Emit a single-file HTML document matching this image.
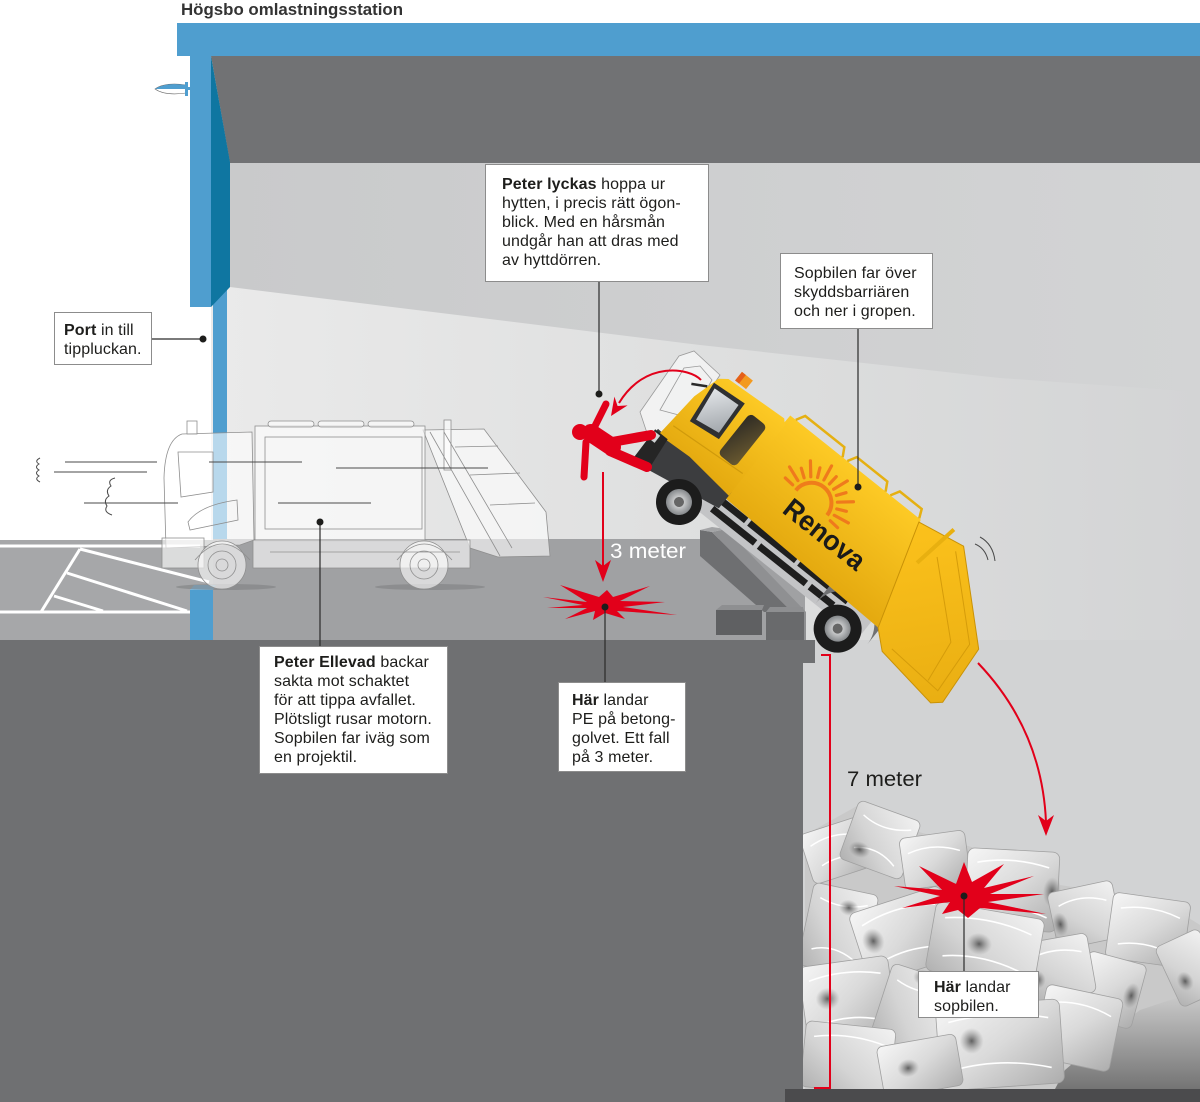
<!DOCTYPE html>
<html><head><meta charset="utf-8"><style>
html,body{margin:0;padding:0;background:#fff;}
svg{display:block;}
text{font-family:"Liberation Sans",Arial,sans-serif;}
.t{font-size:16px;fill:#1d1d1b;letter-spacing:0.1px;}
.b{font-weight:bold;}
</style></head><body>
<svg width="1200" height="1102" viewBox="0 0 1200 1102" xmlns="http://www.w3.org/2000/svg">
<defs>
 <linearGradient id="gWall" x1="0" x2="1" y1="0" y2="0"><stop offset="0" stop-color="#c9cacb"/><stop offset="1" stop-color="#d3d4d5"/></linearGradient>
 <linearGradient id="gLow" x1="0" x2="1" y1="0" y2="0"><stop offset="0" stop-color="#eaeaea"/><stop offset="0.6" stop-color="#dcdddd"/><stop offset="1" stop-color="#d3d4d5"/></linearGradient>
 <linearGradient id="gY" x1="0" y1="0" x2="0" y2="1"><stop offset="0" stop-color="#fdca25"/><stop offset="1" stop-color="#e4a90f"/></linearGradient>
 <linearGradient id="gY2" x1="0" y1="0" x2="1" y2="1"><stop offset="0" stop-color="#fcc21c"/><stop offset="1" stop-color="#e9ae12"/></linearGradient>
 <linearGradient id="gBag" x1="0" y1="0" x2="1" y2="1"><stop offset="0" stop-color="#f6f6f6"/><stop offset=".5" stop-color="#dadada"/><stop offset="1" stop-color="#adadad"/></linearGradient>
 <linearGradient id="gBag2" x1="1" y1="0" x2="0" y2="1"><stop offset="0" stop-color="#f2f2f2"/><stop offset=".6" stop-color="#d4d4d4"/><stop offset="1" stop-color="#b0b0b0"/></linearGradient>
 <radialGradient id="gPinch"><stop offset="0" stop-color="#3f3f3f" stop-opacity=".8"/><stop offset="1" stop-color="#777" stop-opacity="0"/></radialGradient>
 <linearGradient id="gPitFloor" x1="0" y1="0" x2="0" y2="1"><stop offset="0" stop-color="#cfcfcf"/><stop offset="1" stop-color="#747474"/></linearGradient>
 <radialGradient id="gHub"><stop offset="0" stop-color="#f2f2f2"/><stop offset="1" stop-color="#85888b"/></radialGradient>
 <linearGradient id="gGlass" x1="0" y1="0" x2="1" y2="1"><stop offset="0" stop-color="#e4e7ea"/><stop offset="1" stop-color="#9ea3a8"/></linearGradient>
 <linearGradient id="gDark" x1="0" y1="0" x2="1" y2="1"><stop offset="0" stop-color="#2d2a24"/><stop offset="1" stop-color="#6b5a30"/></linearGradient>
 <clipPath id="pit"><rect x="803" y="600" width="397" height="489"/></clipPath>
</defs>

<!-- background -->
<rect width="1200" height="1102" fill="#fff"/>
<rect x="226" y="160" width="974" height="930" fill="url(#gWall)"/>
<polygon points="230,287 700,345 1000,378 1200,392 1200,1090 211,1090 211,300" fill="url(#gLow)"/>
<rect x="803" y="640" width="397" height="450" fill="#d2d3d4"/>

<!-- ceiling and roof -->
<polygon points="211,56 1200,56 1200,163 230,163" fill="#717274"/>
<rect x="177" y="23" width="1023" height="33" fill="#4f9ecf"/>
<rect x="213" y="290" width="14" height="350" fill="#4f9ecf"/>
<rect x="190" y="56" width="21" height="251" fill="#4f9ecf"/>
<polygon points="211,56 230,162 230,287 211,307" fill="#0f76a1"/>

<!-- lamp -->
<path d="M155,89 Q165,82 186,85 L186,93 Q165,96 155,89 Z" fill="#fff" stroke="#666" stroke-width="0.6"/>
<path d="M155,89 Q165,82 186,85 L186,89 Z" fill="#4f9ecf"/>
<rect x="185" y="82" width="3" height="14" fill="#4f9ecf"/>
<rect x="187" y="87" width="4" height="3" fill="#4f9ecf"/>

<!-- outside floor -->
<rect x="0" y="540" width="213" height="100" fill="#a6a7a9"/>
<g stroke="#fff" stroke-width="3" fill="none">
 <path d="M0,546 L200,546"/>
 <path d="M80,549 L41,612"/>
 <path d="M80,549 L209,582"/>
 <path d="M67,573 L187,611"/>
 <path d="M54,596 L103,611"/>
 <path d="M0,612 L190,612"/>
</g>
<!-- inside floor -->
<rect x="213" y="539" width="592" height="101" fill="#a0a1a3"/>
<!-- blue block -->
<rect x="190" y="590" width="23" height="50" fill="#4f9ecf"/>
<polygon points="190,590 194,585 216,585 213,590" fill="#7dbbe3"/>

<!-- concrete -->
<polygon points="0,640 815,640 815,663 803,663 803,1089 785,1089 785,1102 0,1102" fill="#6f7072"/>
<rect x="1000" y="990" width="200" height="99" fill="url(#gPitFloor)"/>
<rect x="785" y="1089" width="415" height="13" fill="#4b4b4d"/>

<!-- barrier -->
<polygon points="700,530 712,532 792,612 764,612 700,556" fill="#6e6f71"/>
<polygon points="712,532 726,529 806,612 806,640 792,640 792,612" fill="#8f9092"/>
<polygon points="700,530 712,527 726,529 712,532" fill="#a3a4a6"/>
<polygon points="716,610 722,605 764,605 762,610" fill="#8e8f91"/>
<rect x="716" y="610" width="46" height="25" fill="#5f6062"/>
<polygon points="766,612 770,607 803,607 804,612" fill="#8e8f91"/>
<rect x="766" y="612" width="38" height="28" fill="#696a6c"/>

<!-- garbage bags -->
<g clip-path="url(#pit)">
 <path d="M805,835 L857,806 L905,828 L975,848 L1055,852 L1060,885 L1110,893 L1165,903 L1200,925 L1200,990 L1140,1010 L1100,1040 L1065,1070 L1055,1089 L805,1089 Z" fill="#c9c9c9"/>
 <g stroke="#a0a0a0" stroke-width="0.8">
 <g transform="translate(838,850) rotate(-18)"><rect x="-33" y="-26" width="66" height="52" rx="6" fill="url(#gBag)"/><path d="M-25,-12 Q0,-20 25,-8 M-20,10 Q2,4 24,14" stroke="#fff" stroke-width="1.5" fill="none"/><ellipse cx="14" cy="4" rx="10" ry="8" fill="url(#gPinch)" stroke="none"/></g>
 <g transform="translate(880,840) rotate(20)"><rect x="-33" y="-31" width="66" height="62" rx="6" fill="url(#gBag2)"/><path d="M-24,-18 Q0,-8 26,-20 M-22,16 Q0,6 22,20" stroke="#fff" stroke-width="1.5" fill="none"/><ellipse cx="-16" cy="16" rx="11" ry="8" fill="url(#gPinch)" stroke="none"/></g>
 <g transform="translate(935,860) rotate(-8)"><rect x="-33" y="-26" width="66" height="52" rx="6" fill="url(#gBag)"/><path d="M-26,-10 Q0,-18 26,-6" stroke="#fff" stroke-width="1.5" fill="none"/></g>
 <g transform="translate(1012,890) rotate(3)"><rect x="-46" y="-40" width="92" height="80" rx="7" fill="url(#gBag)"/><path d="M-36,-26 Q0,-34 36,-24 M-34,22 Q0,12 36,26" stroke="#fff" stroke-width="1.6" fill="none"/><ellipse cx="40" cy="0" rx="9" ry="15" fill="url(#gPinch)" stroke="none"/></g>
 <g transform="translate(1085,915) rotate(-12)"><rect x="-33" y="-29" width="66" height="58" rx="6" fill="url(#gBag2)"/><path d="M-24,-14 Q0,-22 24,-10" stroke="#fff" stroke-width="1.5" fill="none"/><ellipse cx="-26" cy="4" rx="8" ry="12" fill="url(#gPinch)" stroke="none"/></g>
 <g transform="translate(1148,930) rotate(8)"><rect x="-39" y="-33" width="78" height="66" rx="6" fill="url(#gBag)"/><path d="M-30,-18 Q0,-26 30,-16 M-28,18 Q0,10 30,22" stroke="#fff" stroke-width="1.5" fill="none"/></g>
 <g transform="translate(1190,968) rotate(-25)"><rect x="-24" y="-33" width="48" height="66" rx="6" fill="url(#gBag2)"/><ellipse cx="-10" cy="10" rx="8" ry="10" fill="url(#gPinch)" stroke="none"/></g>
 <g transform="translate(1110,990) rotate(15)"><rect x="-30" y="-33" width="60" height="66" rx="6" fill="url(#gBag)"/><ellipse cx="22" cy="0" rx="8" ry="13" fill="url(#gPinch)" stroke="none"/></g>
 <g transform="translate(1058,968) rotate(-10)"><rect x="-34" y="-30" width="68" height="60" rx="6" fill="url(#gBag2)"/><path d="M-26,-14 Q0,-22 26,-12" stroke="#fff" stroke-width="1.5" fill="none"/><ellipse cx="-22" cy="8" rx="8" ry="9" fill="url(#gPinch)" stroke="none"/></g>
 <g transform="translate(838,930) rotate(12)"><rect x="-33" y="-42" width="66" height="84" rx="6" fill="url(#gBag2)"/><path d="M-24,-28 Q0,-20 24,-30 M-22,24 Q0,14 24,28" stroke="#fff" stroke-width="1.5" fill="none"/><ellipse cx="6" cy="-24" rx="10" ry="8" fill="url(#gPinch)" stroke="none"/></g>
 <g transform="translate(905,935) rotate(-18)"><rect x="-48" y="-37" width="96" height="74" rx="7" fill="url(#gBag)"/><path d="M-38,-22 Q0,-32 38,-20 M-36,20 Q0,10 38,24" stroke="#fff" stroke-width="1.6" fill="none"/><ellipse cx="-32" cy="-4" rx="11" ry="13" fill="url(#gPinch)" stroke="none"/></g>
 <g transform="translate(985,945) rotate(10)"><rect x="-55" y="-35" width="110" height="70" rx="7" fill="url(#gBag2)"/><path d="M-44,-20 Q0,-30 44,-18 M-40,18 Q0,8 44,22" stroke="#fff" stroke-width="1.6" fill="none"/><ellipse cx="-6" cy="0" rx="13" ry="11" fill="url(#gPinch)" stroke="none"/></g>
 <g transform="translate(1078,1028) rotate(12)"><rect x="-39" y="-37" width="78" height="74" rx="6" fill="url(#gBag)"/><path d="M-30,-20 Q0,-28 30,-18" stroke="#fff" stroke-width="1.5" fill="none"/><ellipse cx="-28" cy="6" rx="9" ry="12" fill="url(#gPinch)" stroke="none"/></g>
 <g transform="translate(848,1000) rotate(-8)"><rect x="-45" y="-39" width="90" height="78" rx="7" fill="url(#gBag)"/><path d="M-36,-24 Q0,-32 36,-22 M-34,22 Q0,12 36,26" stroke="#fff" stroke-width="1.6" fill="none"/><ellipse cx="-20" cy="-4" rx="12" ry="11" fill="url(#gPinch)" stroke="none"/></g>
 <g transform="translate(912,1012) rotate(18)"><rect x="-33" y="-41" width="66" height="82" rx="6" fill="url(#gBag2)"/><path d="M-24,-26 Q0,-18 24,-28" stroke="#fff" stroke-width="1.5" fill="none"/><ellipse cx="0" cy="-36" rx="10" ry="8" fill="url(#gPinch)" stroke="none"/></g>
 <g transform="translate(1000,1045) rotate(-4)"><rect x="-62" y="-42" width="124" height="84" rx="7" fill="url(#gBag)"/><path d="M-50,-26 Q0,-36 50,-24 M-48,22 Q0,12 50,26" stroke="#fff" stroke-width="1.6" fill="none"/><ellipse cx="-28" cy="-6" rx="12" ry="13" fill="url(#gPinch)" stroke="none"/></g>
 <g transform="translate(848,1058) rotate(6)"><rect x="-45" y="-33" width="90" height="66" rx="6" fill="url(#gBag2)"/><path d="M-36,-18 Q0,-26 36,-16" stroke="#fff" stroke-width="1.5" fill="none"/></g>
 <g transform="translate(920,1066) rotate(-10)"><rect x="-40" y="-26" width="80" height="52" rx="6" fill="url(#gBag)"/><ellipse cx="-12" cy="0" rx="11" ry="9" fill="url(#gPinch)" stroke="none"/></g>
 </g>
</g>

<!-- ghost truck -->
<ellipse cx="226" cy="587" rx="50" ry="3" fill="#7f8082" opacity=".6"/>
<ellipse cx="430" cy="587" rx="55" ry="3" fill="#7f8082" opacity=".6"/>
<g fill="#fff" fill-opacity="0.6" stroke="#8f8f8f" stroke-width="0.8">
 <path d="M423,430 L484,429 L546,512 L550,556 L498,557 L470,548 Z"/>
 <rect x="444" y="420" width="7" height="50"/>
 <rect x="255" y="426" width="170" height="115"/>
 <rect x="268" y="421" width="46" height="6" rx="3"/>
 <rect x="318" y="421" width="46" height="6" rx="3"/>
 <rect x="368" y="421" width="46" height="6" rx="3"/>
 <path d="M253,540 L470,540 L470,568 L253,568 Z"/>
 <path d="M166,548 L164,478 Q165,440 182,434 L252,432 L254,540 L240,545 Z"/>
 <rect x="187" y="421" width="10" height="13"/>
 <rect x="162" y="538" width="42" height="30"/>
 <circle cx="222" cy="565" r="24"/>
 <circle cx="424" cy="565" r="24"/>
</g>
<g fill="none" stroke="#8f8f8f" stroke-width="0.8">
 <rect x="265" y="437" width="157" height="92"/>
 <path d="M178,452 L213,452 L213,492 L181,497 Z"/>
 <path d="M188,522 Q200,505 237,500 L238,520 L190,530 Z"/>
 <path d="M430,432 L500,556 M444,432 L512,548 M455,447 L498,446 M470,475 L520,473 M490,505 L535,503"/>
 <circle cx="222" cy="565" r="14"/><circle cx="222" cy="565" r="6"/>
 <circle cx="424" cy="565" r="14"/><circle cx="424" cy="565" r="6"/>
 <path d="M195,560 Q222,528 250,560 M397,560 Q424,528 452,560"/>
 <path d="M270,552 L460,552"/>
</g>

<!-- motion lines -->
<g stroke="#4a4a4a" stroke-width="1" fill="none">
 <path d="M65,462 L157,462"/>
 <path d="M54,472 L147,472"/>
 <path d="M84,503 L178,503"/>
 <path d="M209,462 L302,462"/>
 <path d="M336,468 L488,468"/>
 <path d="M278,503 L371,503"/>
 <path d="M40,458 q-6,3 -1,6 q-5,3 0,6 q-5,3 0,6 q-5,3 1,6"/>
 <path d="M115,478 q-8,2 -4,8 q-6,4 -2,10 q-6,4 -2,10 q-4,6 5,9"/>
 <path d="M975,544 Q985,548 988,560"/>
 <path d="M980,537 Q993,544 995,561"/>
</g>

<!-- ghost door -->
<path d="M640,412 L679,356 L694,351 L720,375 L706,396 L674,442 L650,442 Z" fill="#f4f4f4" fill-opacity="0.85" stroke="#9a9a9a" stroke-width="0.8"/>
<path d="M660,410 L684,368 L700,366 L712,380 L690,418 Z" fill="none" stroke="#9a9a9a" stroke-width="0.8"/>

<!-- yellow truck -->
<g transform="translate(679,502) rotate(38.6)">
 <rect x="10" y="-34" width="215" height="29" fill="#c3c4c6"/>
 <rect x="22" y="-31" width="42" height="7" fill="#1e1e1e"/>
 <rect x="68" y="-31" width="60" height="7" fill="#1e1e1e"/>
 <rect x="132" y="-31" width="62" height="7" fill="#1e1e1e"/>
 <rect x="30" y="-19" width="55" height="7" fill="#1e1e1e"/>
 <rect x="90" y="-19" width="60" height="7" fill="#1e1e1e"/>
 <rect x="155" y="-19" width="30" height="7" fill="#1e1e1e"/>
 <path d="M170,-6 A33,33 0 0 1 236,-6 L236,-30 L170,-30 Z" fill="#707173"/>
 <path d="M33,-137 L200,-137 L235,-26 L30,-32 Z" fill="url(#gY)"/>
 <path d="M200,-134 L250,-143 L326,-72 L331,-8 L322,0 L252,-10 L234,-26 Z" fill="url(#gY2)" stroke="#c99207" stroke-width="1"/>
 <path d="M247,-134 L316,-70 L320,-14 L258,-18 M236,-118 L300,-60 L306,-16" fill="none" stroke="#d59c0a" stroke-width="1"/>
 <path d="M224,-101 L232,-150" stroke="#e8b010" stroke-width="4"/>
 <path d="M40,-137 L45,-146 L95,-146 L100,-137 M106,-137 L111,-146 L150,-146 L155,-137 M161,-137 L166,-146 L194,-146 L198,-137" fill="none" stroke="#e5b012" stroke-width="2.5"/>
 <path d="M-62,-44 L35,-40 L35,-20 L-44,-6 L-63,-4 Z" fill="#3c3d3f"/>
 <path d="M-58,-40 L-54,-92 L-46,-121 L-38,-127 L30,-131 L35,-126 L35,-36 L-20,-42 Z" fill="url(#gY)"/>
 <path d="M-52,-56 L32,-62" stroke="#d09a0b" stroke-width="1.2"/>
 <polygon points="-47,-115 -10,-118 -8,-74 -42,-70" fill="#2f3032"/>
 <polygon points="-43,-111 -14,-113 -12,-79 -38,-75" fill="url(#gGlass)"/>
 <rect x="0" y="-114" width="22" height="52" rx="5" fill="url(#gDark)"/>
 <rect x="-32" y="-141" width="14" height="11" fill="#f39a1f"/>
 <rect x="-32" y="-141" width="5" height="11" fill="#e5601a"/>
 <path d="M-50,-108 L-64,-100" stroke="#2a2a2a" stroke-width="2.5"/>
 <polygon points="-64,-42 -48,-42 -44,-6 -63,-2" fill="#252525"/>
 <rect x="-63" y="-40" width="7" height="9" fill="#cfd2d4"/>
 <path d="M84,-82 A20,20 0 0 1 124,-82" stroke="#ef7d1b" stroke-width="4" fill="none"/>
 <g stroke="#ef7a1c" stroke-width="3.2" stroke-linecap="round">
  <path d="M78.1,-84.3 L68.1,-85.1"/><path d="M79.6,-90.9 L64.5,-96.4"/><path d="M82.7,-96.9 L74.5,-102.7"/>
  <path d="M87.3,-101.9 L77,-114.2"/><path d="M93,-105.6 L88.8,-114.6"/><path d="M99.5,-107.6 L96.7,-123.4"/>
  <path d="M106.3,-107.9 L107.1,-117.9"/><path d="M112.9,-106.4 L118.4,-121.5"/><path d="M118.9,-103.3 L124.7,-111.5"/>
  <path d="M123.9,-98.7 L136.2,-109"/><path d="M127.6,-93 L136.6,-97.2"/><path d="M129.6,-86.5 L145.4,-89.3"/>
  <path d="M129.9,-79.7 L139.9,-78.9"/>
 </g>
 <text x="86" y="-56" font-size="28" font-weight="bold" fill="#1a1a1a" textLength="96" lengthAdjust="spacingAndGlyphs">Renova</text>
 <circle cx="0" cy="0" r="23" fill="#1c1c1c"/><circle cx="0" cy="0" r="13" fill="url(#gHub)"/><circle cx="0" cy="0" r="5" fill="#666"/>
 <circle cx="203" cy="0" r="24" fill="#1c1c1c"/><circle cx="203" cy="0" r="13" fill="url(#gHub)"/><circle cx="203" cy="0" r="5" fill="#666"/>
</g>

<!-- red person -->
<g stroke="#e2001a" stroke-linecap="round" stroke-linejoin="round" fill="none">
 <path d="M591,433 L612,447" stroke-width="18"/>
 <path d="M595,426 L606,404" stroke-width="7"/>
 <path d="M586,442 L584,477" stroke-width="7"/>
 <path d="M612,442 L651,435" stroke-width="10"/>
 <path d="M610,451 L647,467" stroke-width="10"/>
</g>
<circle cx="580" cy="432" r="8" fill="#e2001a"/>

<!-- red arrows -->
<g stroke="#e2001a" stroke-width="2" fill="none">
 <path d="M701,380 C690,368 645,360 619,403"/>
 <path d="M603,472 L603,568"/>
 <path d="M978,663 Q1042,730 1046,822"/>
 <path d="M821,655 L830,655 L830,1088 L814,1088"/>
</g>
<g fill="#e2001a">
 <polygon points="611,416 614.4,396.6 617.6,406 627.6,405.4"/>
 <polygon points="595,560 603,566 611,560 603,582"/>
 <polygon points="1038,815 1046,821 1054,815 1046,836"/>
 <path transform="translate(605,605)" d="M-62,-8 L-18,-3 L-45,-20 L-6,-8 L2,-15 L8,-8 L45,-19 L15,-4 L60,-3 L18,2 L72,10 L12,6 L20,14 L0,8 L-12,15 L-10,6 L-40,14 L-18,3 L-58,3 L-22,0 Z"/>
 <path transform="translate(964,896)" d="M-70,-10 L-22,-6 L-45,-30 L-8,-12 L0,-34 L8,-14 L40,-32 L20,-8 L70,-20 L26,-2 L80,-2 L24,6 L82,18 L16,12 L4,22 L-6,14 L-22,18 L-14,6 L-62,12 L-24,0 Z"/>
</g>

<!-- measurement labels -->
<text x="610" y="558" font-size="21" fill="#fff" textLength="76" lengthAdjust="spacingAndGlyphs">3 meter</text>
<text x="847" y="786" font-size="21" fill="#1d1d1b" textLength="75" lengthAdjust="spacingAndGlyphs">7 meter</text>

<!-- title -->
<text x="181" y="15" font-size="17" font-weight="bold" fill="#333" textLength="222" lengthAdjust="spacingAndGlyphs">Högsbo omlastningsstation</text>

<!-- connectors -->
<g stroke="#2a2a2a" stroke-width="1.2">
 <path d="M152,339 L203,339"/>
 <path d="M599,281 L599,394"/>
 <path d="M858,329 L858,487"/>
 <path d="M320,522 L320,646"/>
 <path d="M605,607 L605,682"/>
 <path d="M964,896 L964,971"/>
</g>
<g fill="#1d1d1b">
 <circle cx="203" cy="339" r="3.5"/>
 <circle cx="599" cy="394" r="3.5"/>
 <circle cx="858" cy="487" r="3.5"/>
 <circle cx="320" cy="522" r="3.5"/>
 <circle cx="605" cy="607" r="3.5"/>
 <circle cx="964" cy="896" r="3.5"/>
</g>

<!-- callout boxes -->
<g fill="#fff" stroke="#8c8c8c" stroke-width="1">
 <rect x="54.5" y="312.5" width="97" height="52"/>
 <rect x="485.5" y="164.5" width="223" height="117"/>
 <rect x="780.5" y="253.5" width="152" height="75"/>
 <rect x="259.5" y="646.5" width="188" height="127"/>
 <rect x="558.5" y="682.5" width="127" height="89"/>
 <rect x="918.5" y="971.5" width="120" height="46"/>
</g>

<text class="t" x="64" y="335"><tspan class="b">Port</tspan> in till</text>
<text class="t" x="64" y="354">tippluckan.</text>

<text class="t" x="502" y="189"><tspan class="b">Peter lyckas</tspan> hoppa ur</text>
<text class="t" x="502" y="208">hytten, i precis rätt ögon-</text>
<text class="t" x="502" y="227">blick. Med en hårsmån</text>
<text class="t" x="502" y="246">undgår han att dras med</text>
<text class="t" x="502" y="265">av hyttdörren.</text>

<text class="t" x="794" y="278">Sopbilen far över</text>
<text class="t" x="794" y="297">skyddsbarriären</text>
<text class="t" x="794" y="316">och ner i gropen.</text>

<text class="t" x="274" y="667"><tspan class="b">Peter Ellevad</tspan> backar</text>
<text class="t" x="274" y="686">sakta mot schaktet</text>
<text class="t" x="274" y="705">för att tippa avfallet.</text>
<text class="t" x="274" y="724">Plötsligt rusar motorn.</text>
<text class="t" x="274" y="743">Sopbilen far iväg som</text>
<text class="t" x="274" y="762">en projektil.</text>

<text class="t" x="572" y="705"><tspan class="b">Här</tspan> landar</text>
<text class="t" x="572" y="724">PE på betong-</text>
<text class="t" x="572" y="743">golvet. Ett fall</text>
<text class="t" x="572" y="762">på 3 meter.</text>

<text class="t" x="934" y="992"><tspan class="b">Här</tspan> landar</text>
<text class="t" x="934" y="1011">sopbilen.</text>
</svg>
</body></html>
